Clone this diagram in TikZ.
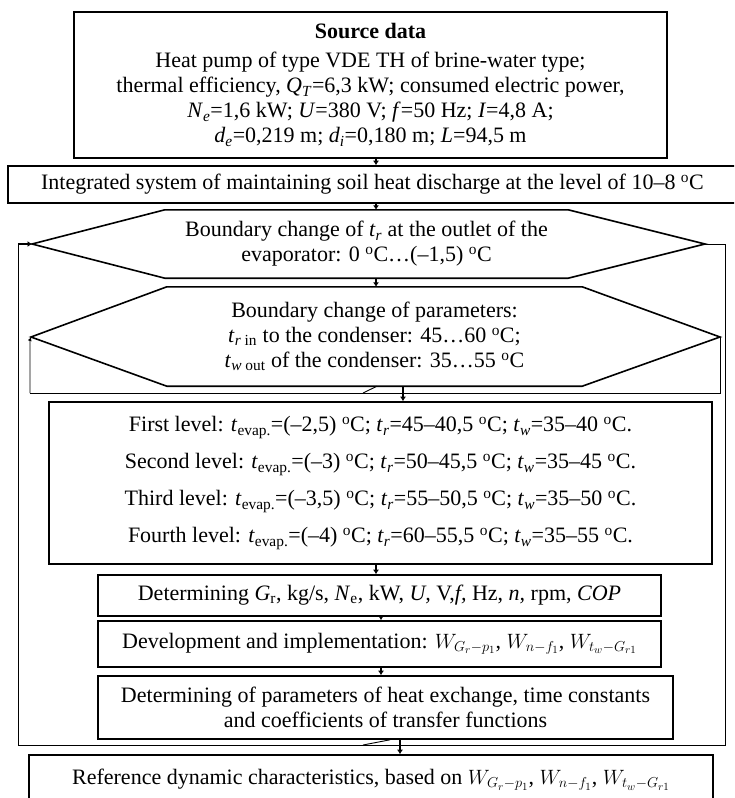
\documentclass[tikz,border=0pt]{standalone}
\usepackage{fontspec}
\setmainfont{Liberation Serif}
\usetikzlibrary{arrows.meta}

\newcommand{\dgc}{\textsuperscript{o}C}
\newcommand{\sub}[2]{\textit{#1}\textsubscript{#2}}

\begin{document}
\begin{tikzpicture}[x=1pt, y=-1pt,
  every node/.style={align=center, inner sep=0pt, font=\fontsize{22}{25}\selectfont},
  block/.style={draw, line width=1.6pt},
  hexline/.style={draw, line width=1.6pt},
  loopline/.style={line width=0.9pt},
  link/.style={line width=1.6pt, -{Latex[length=4.5pt,width=6pt]}}]
\useasboundingbox (0,0) rectangle (734,798);
\clip (0,0) rectangle (734,798);

\node[block, minimum width=593pt, minimum height=146pt] (src) at (370.5,85)
  {\textbf{Source data}\\[4pt]
   Heat pump of type VDE TH of brine-water type;\\
   thermal efficiency, \sub{Q}{\textit{T}}=6,3 kW; consumed electric power,\\
   \sub{N}{\textit{e}}=1,6 kW; \textit{U}=380 V; \textit{f}=50 Hz; \textit{I}=4,8 A;\\
   \sub{d}{\textit{e}}=0,219 m; \sub{d}{\textit{i}}=0,180 m; \textit{L}=94,5 m};
\node[block, minimum width=729pt, minimum height=37pt] (integ) at (372.5,184.5)
  {Integrated system of maintaining soil heat discharge at the level of 10--8 \dgc};

% hexagons
\node[minimum width=403pt, minimum height=68pt] (h1) at (366.5,244)
  {Boundary change of \sub{t}{\textit{r}} at the outlet of the\\
   evaporator: 0 \dgc\dots(--1,5) \dgc};
\coordinate (h1w) at (32,244);
\coordinate (h1e) at (705,244);
\draw[hexline] (h1.north west) -- (h1.north east) -- (h1e) -- (h1.south east)
  -- (h1.south west) -- (h1w) -- cycle;

\node[minimum width=415pt, minimum height=99pt] (h2) at (374.5,336.5)
  {Boundary change of parameters:\\
   \sub{t}{\textit{r} in} to the condenser: 45\dots60 \dgc;\\
   \sub{t}{\textit{w} out} of the condenser: 35\dots55 \dgc};
\coordinate (h2w) at (31,337);
\coordinate (h2e) at (720,337);
\draw[hexline] (h2.north west) -- (h2.north east) -- (h2e) -- (h2.south east)
  -- (h2.south west) -- (h2w) -- cycle;

\node[block, minimum width=663pt, minimum height=162pt,
      font=\fontsize{22}{37}\selectfont] (lev) at (380.5,483)
  {First level: \sub{t}{evap.}=(--2,5) \dgc; \sub{t}{\textit{r}}=45--40,5 \dgc; \sub{t}{\textit{w}}=35--40 \dgc.\\
   Second level: \sub{t}{evap.}=(--3) \dgc; \sub{t}{\textit{r}}=50--45,5 \dgc; \sub{t}{\textit{w}}=35--45 \dgc.\\
   Third level: \sub{t}{evap.}=(--3,5) \dgc; \sub{t}{\textit{r}}=55--50,5 \dgc; \sub{t}{\textit{w}}=35--50 \dgc.\\
   Fourth level: \sub{t}{evap.}=(--4) \dgc; \sub{t}{\textit{r}}=60--55,5 \dgc; \sub{t}{\textit{w}}=35--55 \dgc.};
\node[block, minimum width=563pt, minimum height=41pt] (det) at (379.5,595.5)
  {Determining \sub{G}{r}, kg/s, \sub{N}{e}, kW, \textit{U,} V,\textit{f,} Hz, \textit{n,} rpm, \textit{COP}};
\node[block, minimum width=563pt, minimum height=46pt] (dev) at (379.5,644)
  {Development and implementation: $W_{G_r-p_1}$, $W_{n-f_1}$, $W_{t_w-G_{r1}}$};
\node[block, minimum width=575pt, minimum height=63pt] (par) at (385.5,707.5)
  {Determining of parameters of heat exchange, time constants\\
   and coefficients of transfer functions};
\node[block, minimum width=684pt, minimum height=50pt] (ref) at (371,780)
  {Reference dynamic characteristics, based on $W_{G_r-p_1}$, $W_{n-f_1}$, $W_{t_w-G_{r1}}$};

% arrows down the chart
\coordinate (ax1) at (376,0);
\coordinate (ax2) at (403,0);
\coordinate (ax3) at (381,0);
\coordinate (ax4) at (400,0);
\draw[link] (src.south -| ax1) -- (integ.north -| ax1);
\draw[link] (integ.south -| ax1) -- (h1.north -| ax1);
\draw[link] (h1.south -| ax1) -- (h2.north -| ax1);
\draw[link] (h2.south -| ax2) -- (lev.north -| ax2);
\draw[link] (lev.south -| ax1) -- (det.north -| ax1);
\draw[link] (det.south -| ax3) -- (dev.north -| ax3);
\draw[link] (dev.south -| ax3) -- (par.north -| ax3);
\draw[link] (par.south -| ax4) -- (ref.north -| ax4);

% inner loop
\coordinate (ilSE) at (720,393);
\coordinate (ilSW) at (30,393);
\coordinate (ilk) at (363,393);
\coordinate (ilj) at (377,0);
\draw[loopline] (h2e) -- (ilSE) -- (ilSW);
\draw[loopline, -{Latex[length=4pt,width=4pt]}] (ilSW) -- (30,340) -- (h2w);
\draw[loopline] (ilk) -- (h2.south -| ilj);

% outer loop
\coordinate (olNE) at (725,244);
\coordinate (olSE) at (725,745);
\coordinate (olSW) at (18,745);
\coordinate (olNW) at (18,244);
\coordinate (olk) at (363,745);
\coordinate (olj) at (390,0);
\draw[loopline] (h1e) -- (olNE) -- (olSE) -- (olSW) -- (olNW);
\draw[link] (olNW) -- (h1w);
\draw[loopline] (olk) -- (par.south -| olj);
\end{tikzpicture}
\end{document}
